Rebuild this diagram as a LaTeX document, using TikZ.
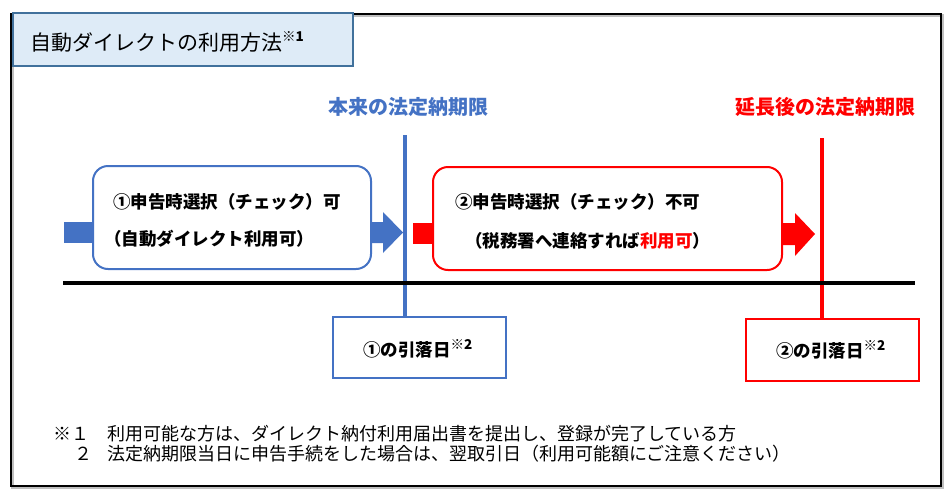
\documentclass[tikz,border=0pt]{standalone}
\usepackage{fontspec}
\setmainfont{Noto Sans CJK JP}
\definecolor{myblue}{HTML}{4472C4}
\definecolor{myred}{HTML}{FF0000}
\definecolor{titlefill}{HTML}{DEEBF7}
\definecolor{titleedge}{HTML}{41719C}
\tikzset{
  bluebox/.style={draw=myblue, line width=2pt, rounded corners=15pt, fill=white},
  redbox/.style={draw=myred, line width=2pt, rounded corners=15pt, fill=white},
  boxtext/.style={anchor=west, inner sep=0pt, font=\fontsize{17.5}{20}\selectfont\bfseries},
  datebox/.style={line width=2.2pt, fill=white},
  deadline/.style={inner sep=0pt, font=\fontsize{20}{23}\selectfont\bfseries},
  note/.style={anchor=west, inner sep=0pt, font=\fontsize{18}{21}\selectfont}
}
\newcommand{\kome}[1]{\raisebox{0.42em}{\fontsize{13.5}{14}\selectfont ※\textbf{#1}}}
\begin{document}
\begin{tikzpicture}[x=1pt,y=-1pt]
\useasboundingbox (0,0) rectangle (950,498);
% outer frame
\draw[line width=3pt, black!25] (12,15) rectangle (942,487);
\node[draw=black, line width=2pt, minimum width=930pt, minimum height=472pt, anchor=north west, inner sep=0pt] (frame) at (10,13) {};
% title
\node[draw=titleedge, line width=1.5pt, fill=titlefill, anchor=north west, minimum width=340pt, minimum height=53pt, inner sep=0pt] (title) at (12,12) {};
\node[anchor=west, inner sep=0pt, font=\fontsize{21}{24}\selectfont] (titletext) at (30,42) {自動ダイレクトの利用方法\kome{1}};
% deadline labels
\node[deadline, text=myblue] (lab1) at (408,107) {本来の法定納期限};
\node[deadline, text=myred] (lab2) at (825,107) {延長後の法定納期限};
% date boxes
\node[datebox, draw=myblue, minimum width=173pt, minimum height=61pt, anchor=north west, inner sep=0pt] (date1) at (332,316) {};
\node[anchor=west, inner sep=0pt, font=\fontsize{17.5}{20}\selectfont\bfseries] (date1t) at (363,349) {①の引落日\kome{2}};
\node[datebox, draw=myred, minimum width=173pt, minimum height=62pt, anchor=north west, inner sep=0pt] (date2) at (745,318) {};
\node[anchor=west, inner sep=0pt, font=\fontsize{17.5}{20}\selectfont\bfseries] (date2t) at (776,350) {②の引落日\kome{2}};
% vertical deadline lines
\coordinate (v1top) at (405,135);
\coordinate (v2top) at (822,138);
\draw[myblue, line width=4pt] (v1top) -- (v1top |- date1.north);
\draw[myred, line width=4pt] (v2top) -- (v2top |- date2.north);
% horizontal time line
\coordinate (tl) at (63,283);
\coordinate (tr) at (915,283);
\draw[black, line width=4pt] (tl) -- (tr);
% arrows blue
\fill[myblue] (64,222) rectangle (93,243);
\fill[myblue] (369,222) -- (383,222) -- (383,212) -- (403,232.5) -- (383,253) -- (383,243) -- (369,243) -- cycle;
% arrows red
\fill[myred] (413,223) rectangle (434,244);
\fill[myred] (780,223) -- (795,223) -- (795,213) -- (815,234) -- (795,256) -- (795,245) -- (780,245) -- cycle;
% process boxes
\node[bluebox, minimum width=278pt, minimum height=103pt, anchor=north west, inner sep=0pt] (box1) at (92,165) {};
\node[redbox, minimum width=349pt, minimum height=103pt, anchor=north west, inner sep=0pt] (box2) at (432,166) {};
\node[boxtext] (box1a) at (113,202) {①申告時選択（チェック）可};
\node[boxtext] (box1b) at (104,239) {（自動ダイレクト利用可）};
\node[boxtext] (box2a) at (455,202) {②申告時選択（チェック）不可};
\node[boxtext] (box2b) at (465,241) {（税務署へ連絡すれば\textcolor{myred}{利用可}）};
% footnotes
\node[note] (n1m) at (53,434) {※１};
\node[note] (n1) at (107,434) {利用可能な方は、ダイレクト納付利用届出書を提出し、登録が完了している方};
\node[note] (n2m) at (74,454) {２};
\node[note] (n2) at (107,454) {法定納期限当日に申告手続をした場合は、翌取引日（利用可能額にご注意ください）};
\end{tikzpicture}
\end{document}
